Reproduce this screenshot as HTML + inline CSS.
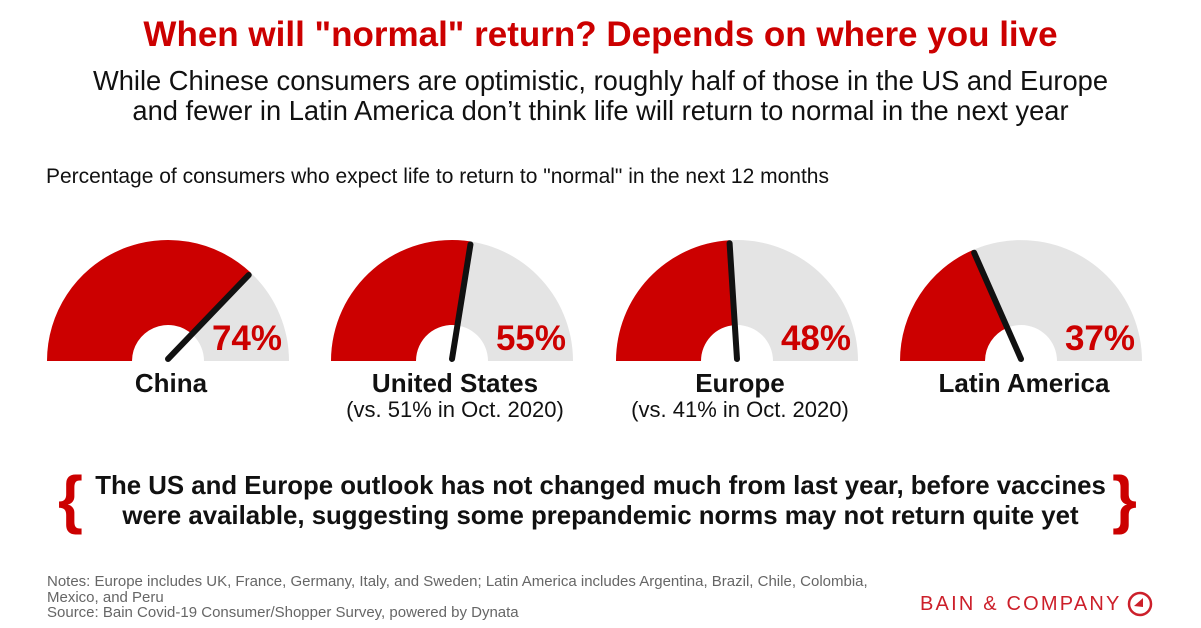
<!DOCTYPE html>
<html><head><meta charset="utf-8"><style>
body{margin:0;width:1201px;height:628px;background:#fff;font-family:"Liberation Sans",sans-serif;position:relative;overflow:hidden}
.a{position:absolute;white-space:nowrap}
</style></head><body>
<div class="a" style="left:0;width:1201px;text-align:center;top:15px;font-size:35px;font-weight:bold;color:#cc0000">When will "normal" return? Depends on where you live</div>
<div class="a" style="left:0;width:1201px;text-align:center;top:66px;font-size:27.3px;line-height:30px;color:#111">While Chinese consumers are optimistic, roughly half of those in the US and Europe<br>and fewer in Latin America don’t think life will return to normal in the next year</div>
<div class="a" style="left:46px;top:165px;font-size:21px;color:#111">Percentage of consumers who expect life to return to "normal" in the next 12 months</div>
<svg id="g" class="a" style="left:0;top:0" width="1201" height="460"></svg>
<div class="a" style="left:58px;top:462px;font-size:64px;color:#cc0000;font-weight:bold">{</div>
<div class="a" style="left:1112px;top:462px;font-size:64px;color:#cc0000;font-weight:bold">}</div>
<div class="a" style="left:0;width:1201px;text-align:center;top:471px;font-size:25.8px;line-height:30px;font-weight:bold;color:#111">The US and Europe outlook has not changed much from last year, before vaccines<br>were available, suggesting some prepandemic norms may not return quite yet</div>
<div class="a" style="left:47px;top:574px;font-size:15px;line-height:15.5px;color:#666">Notes: Europe includes UK, France, Germany, Italy, and Sweden; Latin America includes Argentina, Brazil, Chile, Colombia,<br>Mexico, and Peru<br>Source: Bain Covid-19 Consumer/Shopper Survey, powered by Dynata</div>
<div class="a" style="left:920px;top:593px;font-size:20px;letter-spacing:2.2px;color:#cc1f2a">BAIN &amp; COMPANY</div>
<svg class="a" style="left:1126px;top:590px" width="28" height="28"><circle cx="14" cy="14" r="11" fill="none" stroke="#cc1f2a" stroke-width="2.5"/><path d="M8 16 L17 8 L17 17 Z" fill="#cc1f2a"/></svg>
<script>
const regions=["China","United States","Europe","Latin America"];
const values=[74,55,48,37];
const notes=["","(vs. 51% in Oct. 2020)","(vs. 41% in Oct. 2020)",""];
const svg=document.getElementById('g');const NS="http://www.w3.org/2000/svg";
const cxs=[168,452,737,1021],cy=361,R=121,r=36;
function pt(cx,rad,v){const a=Math.PI*(1-v/100);return [cx+rad*Math.cos(a),cy-rad*Math.sin(a)];}
function arc(cx,v0,v1){const [x0,y0]=pt(cx,R,v0),[x1,y1]=pt(cx,R,v1),[x2,y2]=pt(cx,r,v1),[x3,y3]=pt(cx,r,v0);
return `M${x0} ${y0} A${R} ${R} 0 0 1 ${x1} ${y1} L${x2} ${y2} A${r} ${r} 0 0 0 ${x3} ${y3} Z`;}
function mk(t,at){const e=document.createElementNS(NS,t);for(const k in at)e.setAttribute(k,at[k]);svg.appendChild(e);return e;}
values.forEach((v,i)=>{const cx=cxs[i];
let e=mk('path',{d:arc(cx,0,100),fill:'#e4e4e4'});


e=mk('path',{d:arc(cx,0,v),fill:'#cc0000'});


const [nx,ny]=pt(cx,118,v);
e=mk('line',{x1:cx,y1:cy-2,x2:nx,y2:ny,stroke:'#111','stroke-width':6,'stroke-linecap':'round'});


e=mk('text',{x:cx+114,y:350,'text-anchor':'end','font-size':35,'font-weight':'bold',fill:'#cc0000','font-family':'Liberation Sans, sans-serif'});
e.textContent=v+'%';


e=mk('text',{x:cx+3,y:392,'text-anchor':'middle','font-size':26,'font-weight':'bold',fill:'#111','font-family':'Liberation Sans, sans-serif'});
e.textContent=regions[i];


if(notes[i]){e=mk('text',{x:cx+3,y:417,'text-anchor':'middle','font-size':22,fill:'#111','font-family':'Liberation Sans, sans-serif'});
e.textContent=notes[i];

}
});
</script>
</body></html>
